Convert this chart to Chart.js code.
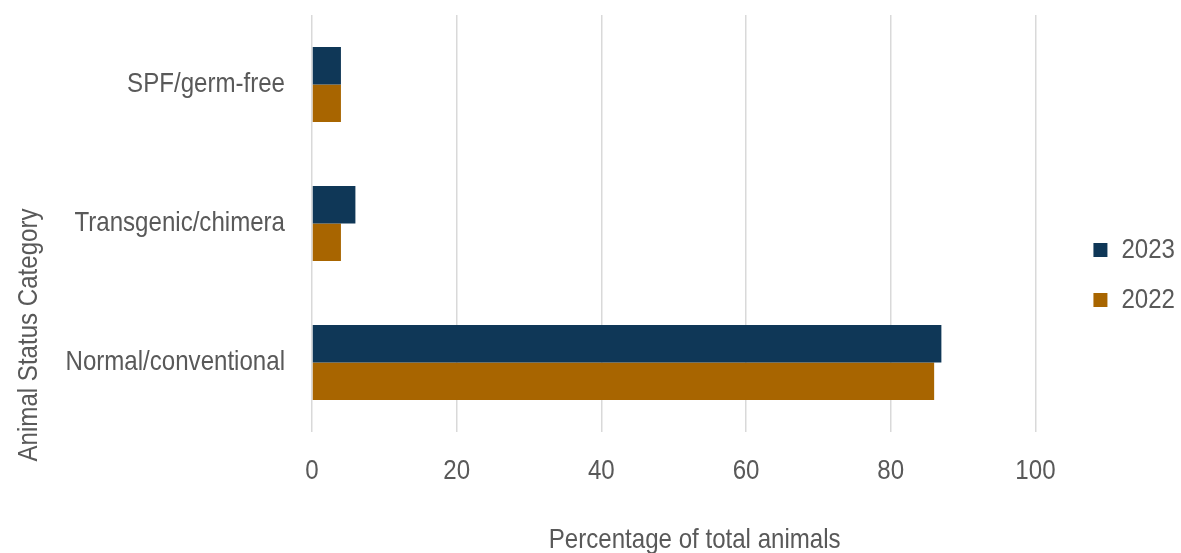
<!DOCTYPE html>
<html>
<head>
<meta charset="utf-8">
<script src="https://cdn.jsdelivr.net/npm/chart.js@4"></script>
<style>
  html, body { margin: 0; padding: 0; background: #fff; }
  #wrap { width: 1181px; height: 553px; }
</style>
</head>
<body>
<div id="wrap"><canvas id="chart" width="1181" height="553"></canvas></div>
<script>
const categories = ['SPF/germ-free', 'Transgenic/chimera', 'Normal/conventional'];
const seriesNames = ['2023', '2022'];
const values2023 = [4, 6, 87];
const values2022 = [4, 4, 86];
const xTicks = [0, 20, 40, 60, 80, 100];

const FONT = "'Liberation Sans', Arial, sans-serif";
const TEXT = '#595959';
const NARROW = 0.86; // squeeze glyphs horizontally for a narrow face

const ctx = document.getElementById('chart').getContext('2d');

// narrow text: scale every fillText / measureText along the text direction
const rawFill = ctx.fillText.bind(ctx);
const rawMeasure = ctx.measureText.bind(ctx);
ctx.fillText = function (text, x, y, maxWidth) {
  this.save();
  this.translate(x, y);
  this.scale(NARROW, 1);
  rawFill(text, 0, 0);
  this.restore();
};
ctx.measureText = function (text) {
  const m = rawMeasure(text);
  return {
    width: m.width * NARROW,
    actualBoundingBoxAscent: m.actualBoundingBoxAscent,
    actualBoundingBoxDescent: m.actualBoundingBoxDescent,
    actualBoundingBoxLeft: m.actualBoundingBoxLeft * NARROW,
    actualBoundingBoxRight: m.actualBoundingBoxRight * NARROW
  };
};

// nudge legend to the right edge and move axis titles off-centre
const nudge = {
  id: 'nudge',
  afterLayout(chart) {
    chart.legend.left += 36;
    chart.legend.right += 36;
    chart.scales.x.right += 42;
    chart.scales.y.bottom += 223;
  }
};

const chart = new Chart(ctx, {
  type: 'bar',
  data: {
    labels: categories,
    datasets: [
      { label: seriesNames[0], data: values2023, backgroundColor: '#0f3757' },
      { label: seriesNames[1], data: values2022, backgroundColor: '#a86500' }
    ]
  },
  plugins: [nudge],
  options: {
    indexAxis: 'y',
    responsive: false,
    animation: false,
    layout: { padding: { top: 15, right: 32, left: 0, bottom: 18 } },
    datasets: { bar: { categoryPercentage: 0.54, barPercentage: 1.0 } },
    plugins: {
      legend: {
        position: 'right',
        labels: {
          boxWidth: 14, boxHeight: 14, padding: 22,
          color: TEXT, font: { family: FONT, size: 28 }
        }
      },
      tooltip: { enabled: false }
    },
    scales: {
      x: {
        min: 0, max: 100,
        afterBuildTicks: (s) => { s.ticks = xTicks.map(v => ({ value: v })); },
        grid: { color: '#d9d9d9', lineWidth: 1.5, drawTicks: false },
        border: { display: false },
        ticks: { color: TEXT, font: { family: FONT, size: 28 }, padding: 22 },
        title: {
          display: true, text: 'Percentage of total animals',
          color: TEXT, font: { family: FONT, size: 28 },
          padding: { top: 0, bottom: -22 }
        },
        afterFit: (s) => { s.height = 103; }
      },
      y: {
        grid: { display: false, drawTicks: false },
        border: { display: false },
        ticks: { color: TEXT, font: { family: FONT, size: 28 }, padding: 27 },
        title: {
          display: true, text: 'Animal Status Category',
          color: TEXT, font: { family: FONT, size: 28 },
          padding: { top: 12, bottom: 0 }
        },
        afterFit: (s) => {
          s.width = 312;
          s.paddingTop = 0;
          s.paddingBottom = 0;
        }
      }
    }
  }
});
</script>
</body>
</html>
